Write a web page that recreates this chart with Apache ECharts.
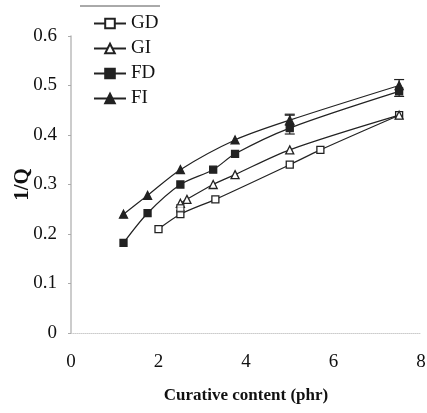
<!DOCTYPE html>
<html><head><meta charset="utf-8">
<script src="https://cdn.jsdelivr.net/npm/echarts@6/dist/echarts.min.js"></script>
<style>html,body{margin:0;padding:0;background:#fff}#c{width:427px;height:413px}</style>
</head><body><div id="c"></div>
<script>
const xTicks = [0, 2, 4, 6, 8];
const yTicks = [0, 0.1, 0.2, 0.3, 0.4, 0.5, 0.6];
const GD = [[2.0, 0.21], [2.5, 0.24], [3.3, 0.27], [5.0, 0.34], [5.7, 0.37], [7.5, 0.44]];
const GDextra = [[2.5, 0.252]];
const GI = [[2.5, 0.262], [2.65, 0.27], [3.25, 0.30], [3.75, 0.32], [5.0, 0.37], [7.5, 0.44]];
const FD = [[1.2, 0.182], [1.75, 0.242], [2.5, 0.30], [3.25, 0.33], [3.75, 0.362], [5.0, 0.414], [7.5, 0.488]];
const FI = [[1.2, 0.24], [1.75, 0.278], [2.5, 0.33], [3.75, 0.39], [5.0, 0.43], [7.5, 0.50]];
// error bars: [x, low, high]
const errBars = [[5.0, 0.402, 0.44], [5.0, 0.42, 0.442], [7.5, 0.478, 0.512]];

const serif = '"Liberation Serif", "DejaVu Serif", serif';
const lineColor = '#222';
function mk(name, data, symbol, filled) {
  return {
    name, type: 'line', data, smooth: 0.3, symbol, symbolSize: symbol === 'triangle' ? 8 : 7,
    lineStyle: { color: lineColor, width: 1.2 },
    itemStyle: { color: filled ? lineColor : '#fff', borderColor: lineColor, borderWidth: 1.3 },
    z: 3
  };
}
const chart = echarts.init(document.getElementById('c'));
chart.setOption({
  animation: false,
  grid: { left: 71, right: 6, top: 36, bottom: 80, containLabel: false, outerBoundsMode: 'none' },
  legend: {
    left: 88, top: 9, orient: 'vertical', itemGap: 6, itemWidth: 32, itemHeight: 12,
    textStyle: { fontFamily: serif, fontSize: 19, color: '#111', padding: [0, 0, 0, 0] },
    data: ['GD', 'GI', 'FD', 'FI']
  },
  xAxis: {
    type: 'value', min: 0, max: 8, interval: 2,
    name: 'Curative content (phr)', nameLocation: 'middle', nameGap: 54, nameMoveOverlap: false,
    nameTextStyle: { fontFamily: serif, fontSize: 17, fontWeight: 'bold', color: '#111' },
    axisLine: { show: true, lineStyle: { color: '#ccc', type: 'dotted', width: 1 } },
    axisTick: { show: false },
    splitLine: { show: false },
    axisLabel: { fontFamily: serif, fontSize: 19, color: '#111', margin: 20 }
  },
  yAxis: {
    type: 'value', min: 0, max: 0.6, interval: 0.1,
    name: '1/Q', nameLocation: 'middle', nameGap: 38, nameRotate: 90, nameMoveOverlap: false,
    nameTextStyle: { fontFamily: serif, fontSize: 21, fontWeight: 'bold', color: '#111' },
    axisLine: { show: true, lineStyle: { color: '#bbb', width: 1.5 } },
    axisTick: { show: true, length: 3, inside: false, lineStyle: { color: '#aaa' } },
    splitLine: { show: false },
    axisLabel: { fontFamily: serif, fontSize: 19, color: '#111', margin: 14,
      formatter: v => v === 0 ? '0' : v.toFixed(1) }
  },
  graphic: [{ type: 'line', shape: { x1: 80, y1: 6, x2: 160, y2: 6 }, style: { stroke: '#555', lineWidth: 1 } }],
  series: [
    mk('GD', GD, 'rect', false),
    mk('GI', GI, 'triangle', false),
    mk('FD', FD, 'rect', true),
    mk('FI', FI, 'triangle', true),
    { type: 'scatter', data: GDextra, symbol: 'rect', symbolSize: 7,
      itemStyle: { color: '#fff', borderColor: lineColor, borderWidth: 1.3 }, z: 3 },
    { type: 'custom', data: errBars, z: 2,
      renderItem: (params, api) => {
        const x = api.value(0);
        const lo = api.coord([x, api.value(1)]);
        const hi = api.coord([x, api.value(2)]);
        const w = 5;
        return { type: 'group', children: [
          { type: 'line', shape: { x1: lo[0], y1: lo[1], x2: hi[0], y2: hi[1] }, style: { stroke: lineColor, lineWidth: 1.2 } },
          { type: 'line', shape: { x1: lo[0] - w, y1: lo[1], x2: lo[0] + w, y2: lo[1] }, style: { stroke: lineColor, lineWidth: 1.2 } },
          { type: 'line', shape: { x1: hi[0] - w, y1: hi[1], x2: hi[0] + w, y2: hi[1] }, style: { stroke: lineColor, lineWidth: 1.2 } }
        ] };
      } }
  ]
});
</script></body></html>
